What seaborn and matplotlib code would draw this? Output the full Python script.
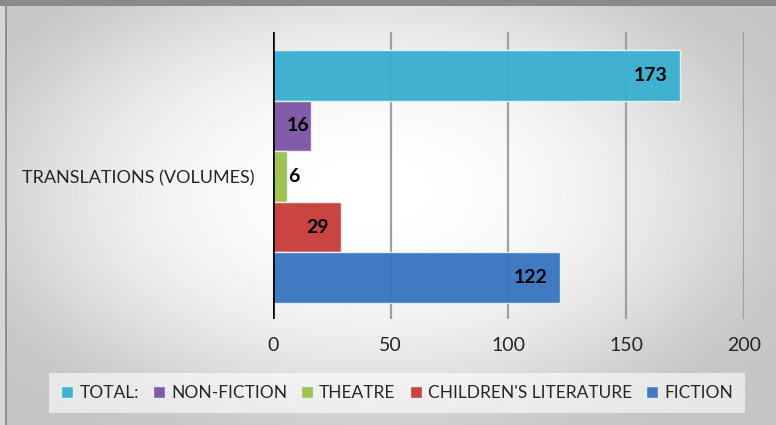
import numpy as np
import pandas as pd
import matplotlib
matplotlib.use("Agg")
import matplotlib.pyplot as plt
import matplotlib.transforms as mtransforms
from matplotlib.patches import Rectangle
import seaborn as sns

# Chart data
categories = ["TRANSLATIONS (VOLUMES)"]
series = ["TOTAL:", "NON-FICTION", "THEATRE", "CHILDREN'S LITERATURE", "FICTION"]
volumes = [173, 16, 6, 29, 122]
colors = ["#3AAFD0", "#7D55A6", "#9BC04A", "#C83C3A", "#3875C1"]
x_ticks = [0, 50, 100, 150, 200]

df = pd.DataFrame({
    "category": categories * len(series),
    "series": series,
    "volumes": volumes,
})

sns.set_theme(style="white")
plt.rcParams["font.family"] = ["Lato", "DejaVu Sans"]
text_color = "#262626"

W, H = 776, 425
fig = plt.figure(figsize=(W / 100, H / 100), dpi=100)

# Soft radial gradient backdrop: white centre fading to light grey edges
bg = fig.add_axes([0, 0, 1, 1], zorder=-10)
yy, xx = np.mgrid[0:1:400j, 0:1:700j]
r2 = ((xx - 0.48) / 0.55) ** 2 + ((yy - 0.45) / 0.6) ** 2
raw = 1.0 - 0.2 * r2 - 0.05 * r2 ** 2
floor, soft = 0.77, 0.04
shade = floor + soft * np.logaddexp(0, (raw - floor) / soft)
shade = np.clip(shade, 0, 1)
bg.imshow(shade, cmap="gray", vmin=0, vmax=1, aspect="auto",
          extent=[0, 1, 0, 1], origin="upper", interpolation="bilinear")
bg.set_xlim(0, 1)
bg.set_ylim(0, 1)
bg.axis("off")

# Frame around the chart area
fig.patches.append(Rectangle((0, 0), 5 / W, 1, transform=fig.transFigure,
                             facecolor="#d6d6d6", edgecolor="none", zorder=-5))
fig.patches.append(Rectangle((0, 1 - 6 / H), 1, 6 / H, transform=fig.transFigure,
                             facecolor="#8a8a8a", edgecolor="none", zorder=-5))
fig.lines.append(plt.Line2D([5.5 / W, 5.5 / W], [0, 1 - 6 / H], transform=fig.transFigure,
                            color="#8e8e8e", lw=1.4, zorder=-4))

ax = fig.add_axes([273 / W, 1 - 319 / H, 471 / W, 287 / H])
ax.patch.set_alpha(0)

sns.barplot(data=df, x="volumes", y="category", hue="series", hue_order=series,
            palette=colors, orient="h", width=0.8, saturation=1, ax=ax,
            edgecolor="#e8f2f8", linewidth=1.0, alpha=0.96, zorder=3)

ax.set_xlim(0, 200)
ax.set_ylim(0.4506, -0.457)
ax.set_xticks(x_ticks)
ax.set_xticklabels([str(t) for t in x_ticks])
ax.set_xlabel("")
ax.set_ylabel("")
for s in ax.spines.values():
    s.set_visible(False)
ax.grid(axis="x", color="#a0a0a0", linewidth=1.6, zorder=1)
ax.grid(axis="y", visible=False)
ax.axvline(0, color="black", linewidth=2.6, zorder=4)
ax.tick_params(axis="x", length=0, pad=13, labelsize=14, labelcolor=text_color)
ax.tick_params(axis="y", length=0, pad=13, labelsize=13, labelcolor=text_color)

# Legend in a light box under the axis
handles, labels = ax.get_legend_handles_labels()
ax.get_legend().remove()
leg = fig.legend(handles, labels, loc="center", ncol=5,
                 bbox_to_anchor=(397 / W, 1 - 393 / H),
                 fontsize=12.5, frameon=True, fancybox=False,
                 handlelength=0.7, handleheight=0.7, handletextpad=0.35,
                 columnspacing=0.8, borderpad=0.7)
leg.get_frame().set_facecolor("white")
leg.get_frame().set_alpha(0.6)
leg.get_frame().set_edgecolor("none")
for t in leg.get_texts():
    t.set_color(text_color)


def shifted(dx_px):
    return ax.transData + mtransforms.ScaledTranslation(dx_px / 100, 0, fig.dpi_scale_trans)


# Value labels: inside the bar end when there is room, otherwise just outside
fig.canvas.draw()
renderer = fig.canvas.get_renderer()
x0 = ax.transData.transform((0, 0))[0]
for cont in ax.containers:
    for bar, val in zip(cont, cont.datavalues):
        y = bar.get_y() + bar.get_height() / 2
        end = bar.get_x() + bar.get_width()
        txt = ax.text(end, y, f"{val:g}", fontsize=14, fontweight="bold",
                      color="black", va="center", ha="right", zorder=5)
        tw = txt.get_window_extent(renderer).width
        bar_px = ax.transData.transform((end, 0))[0] - x0
        if bar_px < tw + 12:
            txt.set_ha("left")
            txt.set_transform(shifted(1))
        elif bar_px < tw + 28:
            txt.set_transform(shifted(-1))
        else:
            txt.set_transform(shifted(-12.5))

fig.savefig("out.png", dpi=100)
